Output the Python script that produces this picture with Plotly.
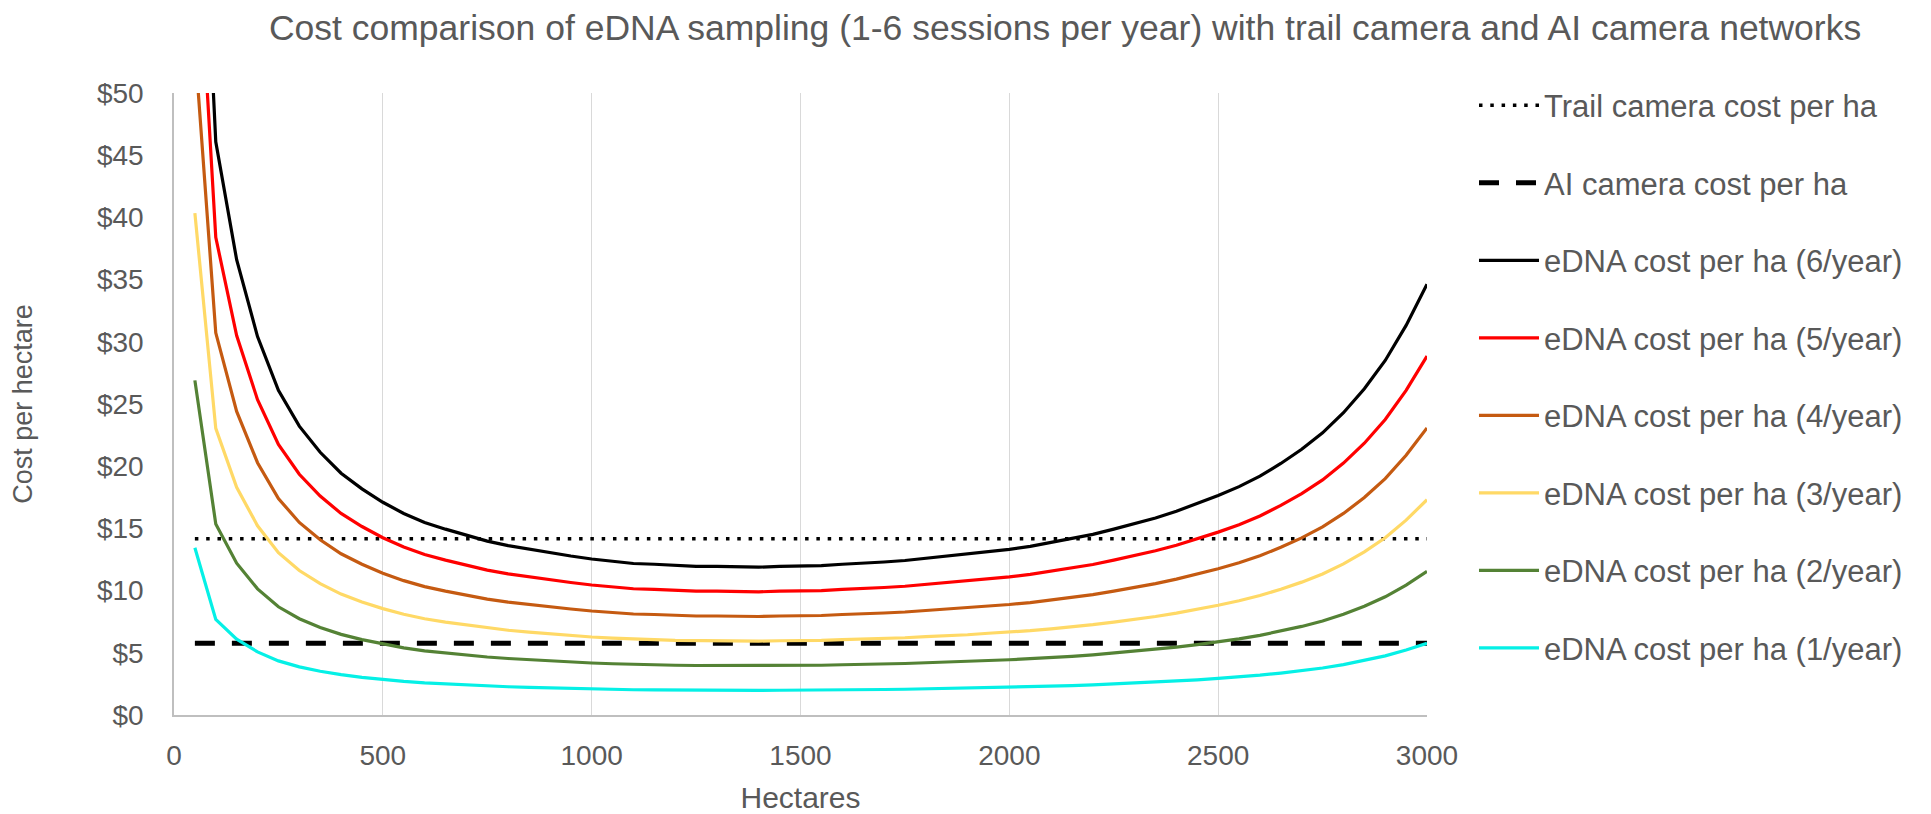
import plotly.graph_objects as go

hectares = [50, 100, 150, 200, 250, 300, 350, 400, 450, 500, 550, 600, 650, 700, 750,
            800, 850, 900, 950, 1000, 1050, 1100, 1150, 1200, 1250, 1300, 1350, 1400, 1450, 1500,
            1550, 1600, 1650, 1700, 1750, 1800, 1850, 1900, 1950, 2000, 2050, 2100, 2150, 2200, 2250,
            2300, 2350, 2400, 2450, 2500, 2550, 2600, 2650, 2700, 2750, 2800, 2850, 2900, 2950, 3000]

edna_6 = [80.70, 46.08, 36.60, 30.42, 26.10, 23.22, 21.12, 19.44, 18.18, 17.10, 16.20, 15.48, 14.94, 14.46, 13.98,
          13.62, 13.32, 13.02, 12.78, 12.54, 12.36, 12.18, 12.12, 12.00, 11.94, 11.94, 11.88, 11.88, 11.94, 11.94,
          12.00, 12.12, 12.18, 12.30, 12.42, 12.60, 12.72, 12.90, 13.14, 13.32, 13.56, 13.86, 14.16, 14.52, 14.94,
          15.36, 15.84, 16.38, 16.98, 17.64, 18.36, 19.20, 20.22, 21.36, 22.68, 24.30, 26.22, 28.50, 31.32, 34.62]

edna_5 = [67.25, 38.40, 30.50, 25.35, 21.75, 19.35, 17.60, 16.20, 15.15, 14.25, 13.50, 12.90, 12.45, 12.05, 11.65,
          11.35, 11.10, 10.85, 10.65, 10.45, 10.30, 10.15, 10.10, 10.00, 9.95, 9.95, 9.90, 9.90, 9.95, 9.95,
          10.00, 10.10, 10.15, 10.25, 10.35, 10.50, 10.60, 10.75, 10.95, 11.10, 11.30, 11.55, 11.80, 12.10, 12.45,
          12.80, 13.20, 13.65, 14.15, 14.70, 15.30, 16.00, 16.85, 17.80, 18.90, 20.25, 21.85, 23.75, 26.10, 28.85]

edna_4 = [53.80, 30.72, 24.40, 20.28, 17.40, 15.48, 14.08, 12.96, 12.12, 11.40, 10.80, 10.32, 9.96, 9.64, 9.32,
          9.08, 8.88, 8.68, 8.52, 8.36, 8.24, 8.12, 8.08, 8.00, 7.96, 7.96, 7.92, 7.92, 7.96, 7.96,
          8.00, 8.08, 8.12, 8.20, 8.28, 8.40, 8.48, 8.60, 8.76, 8.88, 9.04, 9.24, 9.44, 9.68, 9.96,
          10.24, 10.56, 10.92, 11.32, 11.76, 12.24, 12.80, 13.48, 14.24, 15.12, 16.20, 17.48, 19.00, 20.88, 23.08]

edna_3 = [40.35, 23.04, 18.30, 15.21, 13.05, 11.61, 10.56, 9.72, 9.09, 8.55, 8.10, 7.74, 7.47, 7.23, 6.99,
          6.81, 6.66, 6.51, 6.39, 6.27, 6.18, 6.09, 6.06, 6.00, 5.97, 5.97, 5.94, 5.94, 5.97, 5.97,
          6.00, 6.06, 6.09, 6.15, 6.21, 6.30, 6.36, 6.45, 6.57, 6.66, 6.78, 6.93, 7.08, 7.26, 7.47,
          7.68, 7.92, 8.19, 8.49, 8.82, 9.18, 9.60, 10.11, 10.68, 11.34, 12.15, 13.11, 14.25, 15.66, 17.31]

edna_2 = [26.90, 15.36, 12.20, 10.14, 8.70, 7.74, 7.04, 6.48, 6.06, 5.70, 5.40, 5.16, 4.98, 4.82, 4.66,
          4.54, 4.44, 4.34, 4.26, 4.18, 4.12, 4.06, 4.04, 4.00, 3.98, 3.98, 3.96, 3.96, 3.98, 3.98,
          4.00, 4.04, 4.06, 4.10, 4.14, 4.20, 4.24, 4.30, 4.38, 4.44, 4.52, 4.62, 4.72, 4.84, 4.98,
          5.12, 5.28, 5.46, 5.66, 5.88, 6.12, 6.40, 6.74, 7.12, 7.56, 8.10, 8.74, 9.50, 10.44, 11.54]

edna_1 = [13.45, 7.68, 6.10, 5.07, 4.35, 3.87, 3.52, 3.24, 3.03, 2.85, 2.70, 2.58, 2.49, 2.41, 2.33,
          2.27, 2.22, 2.17, 2.13, 2.09, 2.06, 2.03, 2.02, 2.00, 1.99, 1.99, 1.98, 1.98, 1.99, 1.99,
          2.00, 2.02, 2.03, 2.05, 2.07, 2.10, 2.12, 2.15, 2.19, 2.22, 2.26, 2.31, 2.36, 2.42, 2.49,
          2.56, 2.64, 2.73, 2.83, 2.94, 3.06, 3.20, 3.37, 3.56, 3.78, 4.05, 4.37, 4.75, 5.22, 5.77]

camera_x = [50, 3000]
trail_cost = [14.17, 14.17]
ai_cost = [5.77, 5.77]

x_ticks = [0, 500, 1000, 1500, 2000, 2500, 3000]
y_ticks = [0, 5, 10, 15, 20, 25, 30, 35, 40, 45, 50]
y_tick_labels = ["$0", "$5", "$10", "$15", "$20", "$25", "$30", "$35", "$40", "$45", "$50"]

FONT = "Liberation Sans, Arial, sans-serif"
TXT = "#595959"

fig = go.Figure()

fig.add_trace(go.Scatter(x=camera_x, y=trail_cost, mode="lines", name="Trail camera cost per ha",
                         legendgroup="a", line=dict(color="#000000", width=3.5, dash="3.5px,7.8px")))
fig.add_trace(go.Scatter(x=camera_x, y=ai_cost, mode="lines", name="AI camera cost per ha",
                         legendgroup="b", line=dict(color="#000000", width=5, dash="20px,17px")))

series = [
    ("eDNA cost per ha (6/year)", edna_6, "#000000"),
    ("eDNA cost per ha (5/year)", edna_5, "#FF0000"),
    ("eDNA cost per ha (4/year)", edna_4, "#C55A11"),
    ("eDNA cost per ha (3/year)", edna_3, "#FFD966"),
    ("eDNA cost per ha (2/year)", edna_2, "#548235"),
    ("eDNA cost per ha (1/year)", edna_1, "#05F0E6"),
]
for i, (name, vals, col) in enumerate(series):
    fig.add_trace(go.Scatter(x=hectares, y=vals, mode="lines", name=name, legendgroup="g%d" % i,
                             line=dict(color=col, width=3.2)))

fig.update_layout(
    width=1923, height=806,
    margin=dict(l=166, r=504, t=85, b=99, autoexpand=False),
    paper_bgcolor="white", plot_bgcolor="white",
    font=dict(family=FONT, color=TXT, size=28),
    title=dict(text="Cost comparison of eDNA sampling (1-6 sessions per year) with trail camera and AI camera networks",
               x=0.5497, xref="container", xanchor="center", y=0.976, yref="container", yanchor="middle",
               font=dict(size=35.5, color=TXT, family=FONT)),
    showlegend=True,
    legend=dict(x=1.0375, xanchor="left", y=1.023, yanchor="top", font=dict(size=31, color=TXT, family=FONT),
                tracegroupgap=34.2, bgcolor="rgba(0,0,0,0)", traceorder="grouped",
                itemwidth=60, maxheight=1),
    xaxis=dict(range=[0, 3000], tickvals=x_ticks, showgrid=True, gridcolor="#D9D9D9", gridwidth=1.3,
               showline=True, linecolor="#BFBFBF", linewidth=1.5, zeroline=False, ticks="",
               automargin=False,
               tickfont=dict(size=28, color=TXT, family=FONT), ticklabelstandoff=15,
               title=dict(text="Hectares", font=dict(size=30, color=TXT, family=FONT), standoff=22)),
    yaxis=dict(range=[0, 50], tickvals=y_ticks, ticktext=y_tick_labels, showgrid=False,
               showline=True, linecolor="#BFBFBF", linewidth=1.5, zeroline=False, ticks="",
               automargin=False,
               tickfont=dict(size=28, color=TXT, family=FONT), ticklabelstandoff=23,
               title=dict(text="Cost per hectare", font=dict(size=27, color=TXT, family=FONT), standoff=57)),
)

fig.write_html("out.html")
